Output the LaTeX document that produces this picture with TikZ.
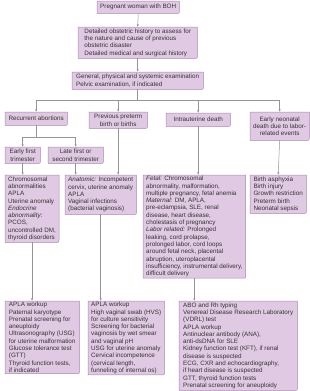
\documentclass[tikz,border=0pt]{standalone}
\usepackage{fontspec}
\setmainfont{Liberation Sans}
\usetikzlibrary{arrows.meta}
\definecolor{boxfill}{HTML}{E0C9E3}
\definecolor{boxdraw}{HTML}{AA85B1}
\definecolor{lnc}{HTML}{959595}
\definecolor{txt}{HTML}{333333}
\pgfdeclarelayer{background}
\pgfsetlayers{background,main}
\begin{document}
\begin{tikzpicture}[x=1pt,y=-1pt,
  bx/.style={anchor=north west,inner xsep=3pt,inner ysep=1pt,align=left,text=txt,
    font=\fontsize{6.3}{7.3}\selectfont},
  bxc/.style={bx,align=center},
  boxline/.style={draw=boxdraw,fill=boxfill,line width=0.5pt},
  ln/.style={draw=lnc,line width=0.5pt},
  arr/.style={ln,-{Latex[length=2.6pt,width=2.2pt]}}]
\useasboundingbox (0,0) rectangle (309,391);
\node[bxc,minimum width=80pt,minimum height=12pt] (top) at (97,1) {Pregnant woman with BOH};
\node[bx,minimum width=119pt,minimum height=31pt] (hist) at (78,27) {Detailed obstetric history to assess for\\the nature and cause of previous\\obstetric disaster\\Detailed medical and surgical history};
\node[bx,minimum width=131pt,minimum height=17pt] (exam) at (72,72) {General, physical and systemic examination\\Pelvic examination, if indicated};
\node[bxc,minimum width=62pt,minimum height=13pt] (rec) at (5,112) {Recurrent abortions};
\node[bxc,minimum width=58pt,minimum height=16pt] (pre) at (89,112) {Previous preterm\\birth or births};
\node[bxc,minimum width=64pt,minimum height=13pt] (iud) at (166,113) {Intrauterine death};
\node[bxc,minimum width=56pt,minimum height=28pt] (neo) at (250,112) {Early neonatal\\death due to labor-\\related events};
\node[bxc,minimum width=35pt,minimum height=16pt] (early) at (5,147) {Early first\\trimester};
\node[bxc,minimum width=55pt,minimum height=16pt] (late) at (48,147) {Late first or\\second trimester};
\node[bx,minimum width=52pt,minimum height=67pt] (chrom) at (5,175) {Chromosomal\\abnormalities\\APLA\\Uterine anomaly\\\textit{Endocrine}\\\textit{abnormality:}\\PCOS,\\uncontrolled DM,\\thyroid disorders};
\node[bx,minimum width=70pt,minimum height=39pt] (anat) at (65,175) {\textit{Anatomic:} Incompetent\\cervix, uterine anomaly\\APLA\\Vaginal infections\\(bacterial vaginosis)};
\node[bx,minimum width=100pt,minimum height=102pt] (fetal) at (143,175) {\textit{Fetal:} Chromosomal\\abnormality, malformation,\\multiple pregnancy, fetal anemia\\\textit{Maternal:} DM, APLA,\\pre-eclampsia, SLE, renal\\disease, heart disease,\\cholestasis of pregnancy\\\textit{Labor related:} Prolonged\\leaking, cord prolapse,\\prolonged labor, cord loops\\around fetal neck, placental\\abruption, uteroplacental\\insufficiency, instrumental delivery,\\difficult delivery};
\node[bx,minimum width=56pt,minimum height=38pt] (birth) at (250,175) {Birth asphyxia\\Birth injury\\Growth restriction\\Preterm birth\\Neonatal sepsis};
\node[bx,minimum width=74pt,minimum height=72pt] (apla1) at (5,301) {APLA workup\\Paternal karyotype\\Prenatal screening for\\aneuploidy\\Ultrasonography (USG)\\for uterine malformation\\Glucose tolerance test\\(GTT)\\Thyroid function tests,\\if indicated};
\node[bx,minimum width=72pt,minimum height=72pt] (apla2) at (88,301) {APLA workup\\High vaginal swab (HVS)\\for culture sensitivity\\Screening for bacterial\\vaginosis by wet smear\\and vaginal pH\\USG for uterine anomaly\\Cervical incompetence\\(cervical length,\\funneling of internal os)};
\node[bx,minimum width=118pt,minimum height=89pt] (abo) at (179,301) {ABO and Rh typing\\Venereal Disease Research Laboratory\\(VDRL) test\\APLA workup\\Antinuclear antibody (ANA),\\anti-dsDNA for SLE\\Kidney function test (KFT), if renal\\disease is suspected\\ECG, CXR and echocardiography,\\if heart disease is suspected\\GTT, thyroid function tests\\Prenatal screening for aneuploidy};
\begin{pgfonlayer}{background}
\foreach \n in {top,hist,exam,rec,pre,iud,neo,early,late,chrom,anat,fetal,birth,apla1,apla2,abo}{
  \path[boxline] (\n.north west) -- (\n.north east) -- ([yshift=3.5pt]\n.south east)
    .. controls (\n.south east) .. ([xshift=-3.5pt]\n.south east) -- (\n.south west) -- cycle;
}
\end{pgfonlayer}
\path (exam.south) ++(0,11) coordinate (bus);
\path (rec.south) ++(0,12) coordinate (rbus);
\draw[arr] (top.south) -- (hist.north);
\draw[arr] (hist.south) -- (exam.north);
\draw[ln] (exam.south) -- (bus);
\draw[ln] (bus -| rec.north) -- (bus -| neo.north);
\draw[arr] (bus -| rec.north) -- (rec.north);
\draw[arr] (bus -| pre.north) -- (pre.north);
\draw[arr] (bus -| iud.north) -- (iud.north);
\draw[arr] (bus -| neo.north) -- (neo.north);
\draw[ln] (rec.south) -- (rbus);
\draw[ln] (rbus -| early.north) -- (rbus -| late.north);
\draw[arr] (rbus -| early.north) -- (early.north);
\draw[arr] (rbus -| late.north) -- (late.north);
\draw[arr] (early.south) -- (early.south |- chrom.north);
\draw[arr] (late.south) -- (late.south |- anat.north);
\draw[arr] (pre.south) -- (pre.south |- anat.north);
\draw[arr] (iud.south) -- (iud.south |- fetal.north);
\draw[arr] (neo.south) -- (birth.north);
\draw[arr] (chrom.south) -- (chrom.south |- apla1.north);
\draw[arr] (anat.south) -- (anat.south |- apla2.north);
\draw[arr] (fetal.south) -- (fetal.south |- abo.north);
\end{tikzpicture}
\end{document}
